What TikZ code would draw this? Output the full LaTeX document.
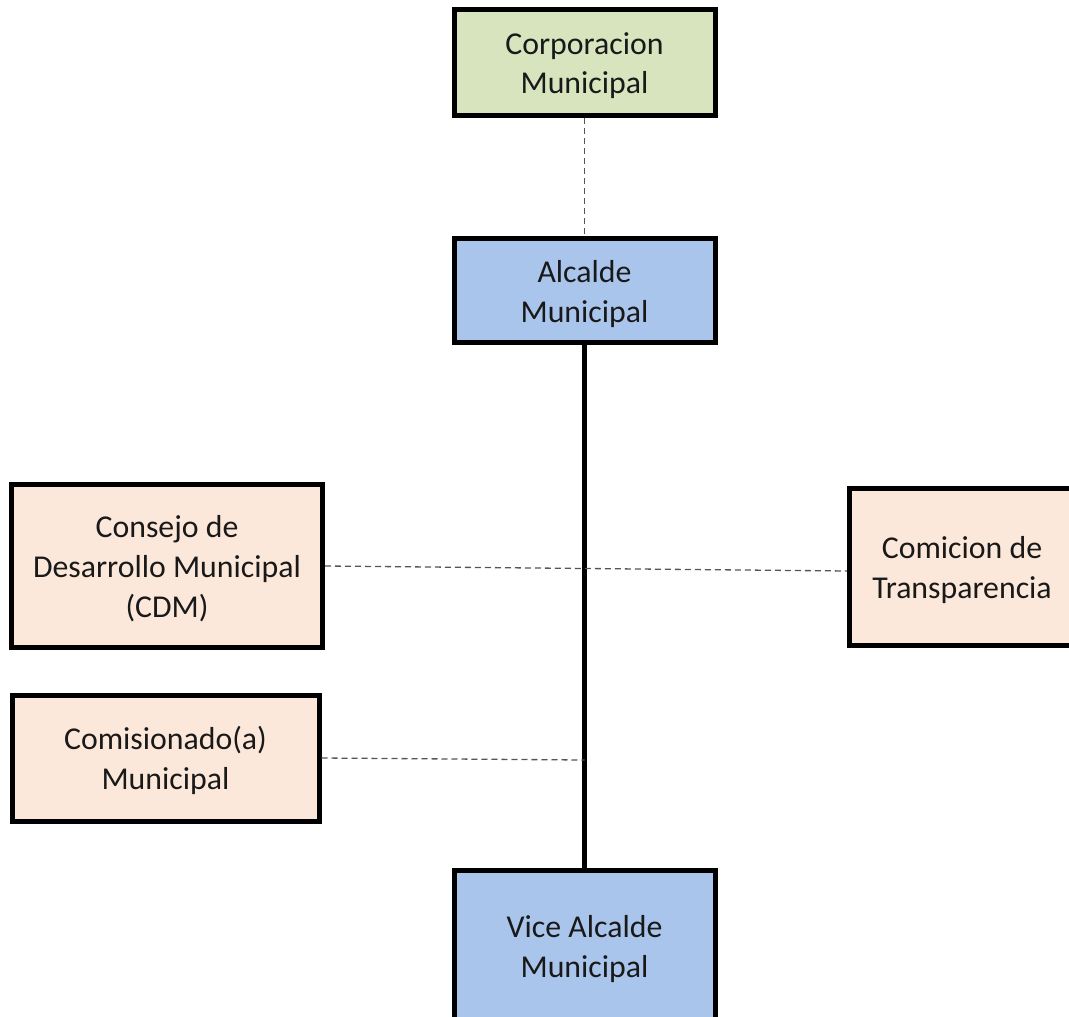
\documentclass[tikz,border=0pt]{standalone}
\usepackage{fontspec}
\setmainfont{Carlito}
\definecolor{boxgreen}{HTML}{D7E4BD}
\definecolor{boxblue}{HTML}{A9C5EB}
\definecolor{boxpeach}{HTML}{FCE8DA}
\definecolor{dashgray}{HTML}{555555}
\newcommand{\boxtext}[1]{\raisebox{-3.5pt}[\height][\depth]{\begin{tabular}{@{}c@{}}#1\end{tabular}}}
\begin{document}
\begin{tikzpicture}[x=1pt,y=-1pt,
  orgbox/.style={draw=black, line width=5pt, inner sep=0pt,
    font=\fontsize{31.8}{40}\selectfont, text=black!90},
  dashlink/.style={draw=dashgray, line width=1.3pt, dash pattern=on 6pt off 4pt},
  mainlink/.style={draw=black, line width=5pt}]
\useasboundingbox (0,0) rectangle (1069,1017);
\node[orgbox, fill=boxgreen, minimum width=261pt, minimum height=106pt] (corp) at (584.5,62.5) {\boxtext{Corporacion\\Municipal}};
\node[orgbox, fill=boxblue, minimum width=261pt, minimum height=104pt] (alc) at (584.5,290.5) {\boxtext{Alcalde\\Municipal}};
\node[orgbox, fill=boxpeach, minimum width=311pt, minimum height=163pt] (cdm) at (167,566) {\boxtext{Consejo de\\Desarrollo Municipal\\(CDM)}};
\node[orgbox, fill=boxpeach, minimum width=225pt, minimum height=157pt] (trans) at (962,567) {\boxtext{Comicion de\\Transparencia}};
\node[orgbox, fill=boxpeach, minimum width=307pt, minimum height=126pt] (comis) at (165.5,758) {\boxtext{Comisionado(a)\\Municipal}};
\node[orgbox, fill=boxblue, minimum width=261pt, minimum height=150pt] (vice) at (584.5,945.5) {\boxtext{Vice Alcalde\\Municipal}};
\coordinate (cdmend) at ([yshift=-4pt]trans.west);
\coordinate (comisend) at ([yshift=-2pt]alc.south |- comis.east);
\draw[mainlink] (alc.south) -- (vice.north);
\draw[dashlink] (corp.south) -- (alc.north);
\draw[dashlink] (cdm.east) -- (cdmend);
\draw[dashlink] (comis.east) -- (comisend);
\end{tikzpicture}
\end{document}
